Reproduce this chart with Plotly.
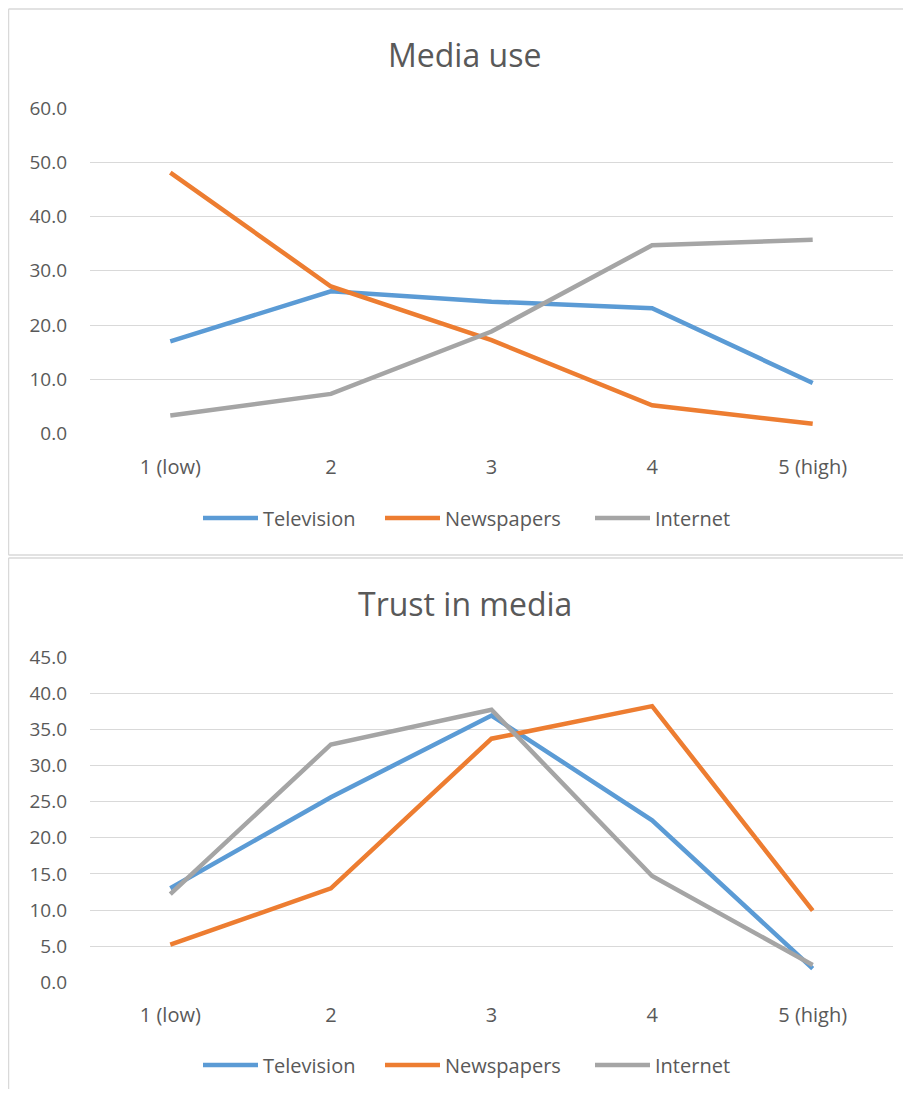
import plotly.graph_objects as go

categories = ["1 (low)", "2", "3", "4", "5 (high)"]
series_names = ["Television", "Newspapers", "Internet"]
colors = ["#5B9BD5", "#ED7D31", "#A5A5A5"]

use_television = [17.0, 26.2, 24.3, 23.1, 9.3]
use_newspapers = [48.1, 27.1, 17.2, 5.2, 1.8]
use_internet = [3.3, 7.3, 18.8, 34.7, 35.7]

trust_television = [13.0, 25.6, 36.9, 22.4, 1.9]
trust_newspapers = [5.2, 13.0, 33.7, 38.2, 9.9]
trust_internet = [12.2, 32.9, 37.7, 14.7, 2.4]

title_use = "Media use"
title_trust = "Trust in media"

# page is offset by the default 8px body margin
OFF = 8
W, H = 911 - OFF, 1097 - 2 * OFF
FONT = "Open Sans"
TXT = "#595959"
GRID = "#D9D9D9"


def py(p):
    return 1 - (p - OFF) / H


def pxx(p):
    return (p - OFF) / W


fig = go.Figure()

legend_x = [198, 380, 590]
for i, (name, vals, col) in enumerate(zip(series_names, [use_television, use_newspapers, use_internet], colors)):
    fig.add_trace(go.Scatter(x=categories, y=vals, name=name, mode="lines",
                             line=dict(color=col, width=4.5), xaxis="x", yaxis="y",
                             legend="legend" if i == 0 else f"legend{i + 1}"))
for i, (name, vals, col) in enumerate(zip(series_names, [trust_television, trust_newspapers, trust_internet], colors)):
    fig.add_trace(go.Scatter(x=categories, y=vals, name=name, mode="lines",
                             line=dict(color=col, width=4.5), xaxis="x2", yaxis="y2",
                             legend=f"legend{i + 4}"))

xdom = [pxx(90), pxx(893)]
axis_common_x = dict(type="category", range=[-0.5, 4.5], showgrid=False, zeroline=False,
                     showline=False, ticks="", tickfont=dict(family=FONT, size=20, color=TXT),
                     ticklabelstandoff=19, fixedrange=True, automargin=False)
axis_common_y = dict(showgrid=True, gridcolor=GRID, gridwidth=1, zeroline=False, showline=False,
                     ticks="", tickformat=".1f", tickfont=dict(family=FONT, size=19, color=TXT),
                     ticklabelstandoff=22, fixedrange=True, automargin=False)

legends = {}
for k in range(6):
    key = "legend" if k == 0 else f"legend{k + 1}"
    yy = 518 if k < 3 else 1065
    legends[key] = dict(orientation="h", x=pxx(legend_x[k % 3]), xanchor="left",
                        y=py(yy), yanchor="middle", itemwidth=55,
                        font=dict(family=FONT, size=20, color=TXT),
                        bgcolor="rgba(0,0,0,0)", borderwidth=0)

line_style = dict(color=GRID, width=1.5)
shapes = [
    dict(type="line", xref="paper", yref="paper", x0=pxx(8.5), x1=1, y0=py(9), y1=py(9), line=line_style),
    dict(type="line", xref="paper", yref="paper", x0=pxx(8.5), x1=pxx(8.5), y0=py(9), y1=py(555), line=line_style),
    dict(type="line", xref="paper", yref="paper", x0=pxx(8.5), x1=1, y0=py(555), y1=py(555), line=line_style),
    dict(type="line", xref="paper", yref="paper", x0=pxx(8.5), x1=1, y0=py(558), y1=py(558), line=line_style),
    dict(type="line", xref="paper", yref="paper", x0=pxx(8.5), x1=pxx(8.5), y0=py(558), y1=0, line=line_style),
]

fig.update_layout(
    width=W, height=H,
    margin=dict(l=0, r=0, t=0, b=0, autoexpand=False),
    paper_bgcolor="white", plot_bgcolor="white",
    xaxis=dict(domain=xdom, anchor="y", **axis_common_x),
    yaxis=dict(domain=[py(433.5), py(108)], range=[0, 60], dtick=10, anchor="x", **axis_common_y),
    xaxis2=dict(domain=xdom, anchor="y2", **axis_common_x),
    yaxis2=dict(domain=[py(982.3), py(657)], range=[0, 45], dtick=5, anchor="x2", **axis_common_y),
    showlegend=True,
    annotations=[
        dict(text=title_use, xref="paper", yref="paper", x=pxx(465), y=py(55),
             xanchor="center", yanchor="middle", showarrow=False,
             font=dict(family=FONT, size=32, color=TXT)),
        dict(text=title_trust, xref="paper", yref="paper", x=pxx(465), y=py(603),
             xanchor="center", yanchor="middle", showarrow=False,
             font=dict(family=FONT, size=32, color=TXT)),
    ],
    shapes=shapes,
    **legends,
)

fig.write_html("out.html")
